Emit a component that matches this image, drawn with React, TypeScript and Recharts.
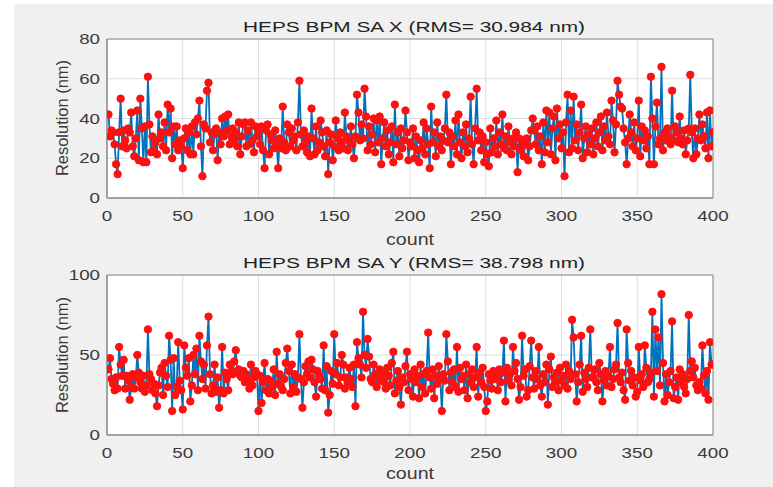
import React from 'react';
import { LineChart, Line, XAxis, YAxis, CartesianGrid, ReferenceArea } from 'recharts';

// Sample index (count axis)
const COUNTS: number[] = Array.from({ length: 400 }, (_, i) => i + 1);

// HEPS BPM SA X resolution (nm)
const SA_X: number[] = [
  42, 31, 34, 33, 27, 17, 12, 33, 50, 26,
  34, 29, 25, 35, 33, 43, 26, 21, 30, 44,
  19, 50, 35, 18, 36, 18, 61, 37, 23, 31,
  24, 28, 22, 42, 30, 33, 26, 38, 24, 47,
  33, 45, 20, 36, 27, 36, 24, 29, 26, 15,
  30, 35, 24, 33, 22, 36, 22, 38, 32, 40,
  49, 26, 11, 37, 35, 54, 58, 28, 33, 24,
  32, 35, 19, 33, 27, 40, 31, 41, 34, 42,
  27, 31, 35, 29, 33, 26, 38, 22, 31, 37,
  38, 26, 34, 27, 38, 29, 23, 36, 31, 34,
  27, 36, 24, 15, 34, 37, 22, 32, 29, 25,
  34, 27, 15, 30, 25, 46, 28, 24, 37, 33,
  26, 35, 29, 31, 24, 38, 59, 32, 26, 34,
  28, 23, 31, 21, 45, 30, 22, 36, 24, 28,
  39, 33, 26, 21, 34, 12, 28, 32, 19, 26,
  39, 30, 24, 33, 28, 25, 43, 31, 24, 29,
  36, 27, 20, 31, 52, 43, 29, 37, 30, 55,
  41, 24, 36, 27, 32, 40, 23, 39, 28, 41,
  17, 30, 38, 26, 34, 22, 28, 36, 18, 47,
  27, 33, 21, 35, 25, 29, 44, 33, 19, 28,
  26, 35, 20, 31, 24, 18, 29, 25, 38, 22,
  35, 27, 15, 46, 28, 33, 21, 38, 26, 31,
  24, 29, 35, 52, 28, 33, 17, 31, 26, 39,
  22, 42, 28, 20, 33, 26, 37, 23, 30, 51,
  27, 17, 35, 55, 29, 33, 24, 31, 18, 28,
  22, 16, 35, 23, 30, 26, 39, 22, 33, 27,
  42, 25, 31, 24, 36, 28, 22, 30, 26, 33,
  13, 30, 24, 28, 21, 27, 30, 19, 26, 34,
  40, 34, 27, 36, 24, 31, 17, 38, 23, 44,
  28, 43, 22, 35, 41, 19, 45, 30, 37, 25,
  33, 11, 38, 52, 23, 44, 25, 51, 29, 37,
  24, 33, 47, 20, 30, 36, 23, 32, 27, 35,
  22, 30, 38, 26, 33, 41, 24, 36, 29, 43,
  31, 27, 49, 39, 23, 37, 59, 52, 46, 45,
  35, 28, 17, 30, 42, 33, 26, 38, 24, 30,
  49, 21, 36, 29, 34, 25, 31, 17, 61, 40,
  17, 36, 48, 27, 30, 66, 24, 33, 29, 35,
  31, 27, 54, 29, 36, 33, 28, 41, 30, 27,
  34, 22, 29, 35, 62, 33, 20, 35, 22, 30,
  42, 29, 37, 31, 25, 43, 20, 44, 26, 33,
];

// HEPS BPM SA Y resolution (nm)
const SA_Y: number[] = [
  41, 48, 35, 32, 28, 36, 29, 55, 44, 37,
  47, 29, 37, 34, 22, 30, 38, 29, 36, 50,
  39, 33, 29, 37, 27, 31, 66, 38, 35, 28,
  32, 26, 18, 31, 39, 42, 25, 45, 37, 30,
  62, 47, 15, 48, 25, 30, 58, 34, 28, 16,
  56, 42, 37, 48, 21, 31, 50, 38, 54, 28,
  62, 46, 35, 44, 29, 56, 74, 38, 26, 31,
  44, 27, 36, 17, 28, 55, 26, 39, 35, 28,
  44, 40, 38, 46, 53, 39, 41, 37, 36, 40,
  33, 38, 34, 29, 44, 31, 36, 40, 38, 15,
  37, 20, 33, 45, 28, 35, 26, 34, 30, 41,
  25, 52, 32, 38, 30, 28, 35, 45, 54, 40,
  26, 44, 30, 38, 27, 36, 63, 35, 17, 33,
  43, 38, 46, 36, 47, 41, 33, 24, 40, 37,
  35, 29, 56, 28, 43, 14, 25, 40, 32, 63,
  38, 45, 31, 36, 50, 44, 29, 36, 33, 42,
  35, 30, 44, 18, 58, 48, 44, 36, 77, 50,
  42, 60, 49, 35, 33, 44, 38, 30, 36, 41,
  34, 38, 33, 29, 42, 37, 31, 45, 52, 26,
  34, 40, 30, 19, 36, 33, 43, 52, 28, 38,
  35, 24, 41, 33, 37, 23, 44, 30, 38, 26,
  40, 64, 36, 29, 41, 23, 37, 32, 43, 35,
  15, 38, 34, 63, 46, 28, 39, 33, 41, 30,
  55, 27, 42, 35, 37, 28, 44, 23, 38, 33,
  41, 30, 36, 55, 24, 39, 33, 42, 30, 15,
  21, 38, 34, 29, 40, 35, 37, 28, 41, 33,
  39, 59, 21, 42, 34, 38, 31, 55, 40, 45,
  35, 22, 30, 62, 37, 41, 24, 28, 43, 59,
  36, 29, 40, 35, 55, 31, 24, 38, 33, 44,
  19, 41, 49, 30, 36, 33, 39, 28, 42, 34,
  37, 31, 44, 29, 40, 35, 72, 61, 38, 21,
  33, 44, 62, 27, 39, 35, 30, 42, 66, 36,
  36, 41, 33, 28, 45, 38, 21, 34, 40, 31,
  37, 55, 30, 35, 41, 44, 70, 36, 33, 39,
  28, 22, 66, 45, 34, 40, 31, 36, 24, 27,
  55, 34, 38, 30, 56, 42, 33, 35, 39, 77,
  24, 66, 40, 61, 31, 88, 45, 21, 38, 25,
  33, 40, 71, 23, 30, 36, 22, 41, 33, 38,
  30, 26, 35, 75, 40, 46, 36, 42, 31, 28,
  33, 29, 56, 37, 26, 40, 22, 58, 44, 44,
];

const X_TICKS: number[] = [0, 50, 100, 150, 200, 250, 300, 350, 400];
const TOP_Y_TICKS: number[] = [0, 20, 40, 60, 80];
const BOTTOM_Y_TICKS: number[] = [0, 50, 100];

const TITLE_X = 'HEPS BPM SA X (RMS= 30.984 nm)';
const TITLE_Y = 'HEPS BPM SA Y (RMS= 38.798 nm)';
const X_LABEL = 'count';
const Y_LABEL = 'Resolution (nm)';

const dataX = COUNTS.map((c, i) => ({ count: c, value: SA_X[i] }));
const dataY = COUNTS.map((c, i) => ({ count: c, value: SA_Y[i] }));

const FONT = '"Liberation Sans", Arial, sans-serif';
const TEXT_COLOR = '#3a3a3a';
const SX = 1.25;

const XTick = (props: any) => {
  const { x, y, payload } = props;
  return (
    <g transform={`translate(${x},${y})`}>
      <text transform={`scale(${SX},1)`} textAnchor="middle" dy={15} fill={TEXT_COLOR} fontSize={15} fontFamily={FONT}>
        {payload.value}
      </text>
    </g>
  );
};

const YTick = (props: any) => {
  const { x, y, payload } = props;
  return (
    <g transform={`translate(${x + 1},${y})`}>
      <text transform={`scale(${SX},1)`} textAnchor="end" dy={5} fill={TEXT_COLOR} fontSize={15} fontFamily={FONT}>
        {payload.value}
      </text>
    </g>
  );
};

const Panel = ({ data, yMax, yTicks, height, top, bottom }: any) => (
  <LineChart
    width={773}
    height={height}
    data={data}
    margin={{ top, right: 60, bottom, left: 67 }}
  >
    <CartesianGrid stroke="#dedede" fill="#ffffff" horizontalValues={yTicks} verticalValues={X_TICKS} />
    <XAxis
      dataKey="count"
      type="number"
      domain={[0, 400]}
      ticks={X_TICKS}
      interval={0}
      height={30}
      tickLine={false}
      axisLine={{ stroke: '#8a8a8a' }}
      tick={<XTick />}
      allowDataOverflow
    />
    <YAxis
      type="number"
      domain={[0, yMax]}
      ticks={yTicks}
      interval={0}
      width={40}
      tickLine={false}
      axisLine={{ stroke: '#8a8a8a' }}
      tick={<YTick />}
      allowDataOverflow
    />
    <ReferenceArea x1={0} x2={400} y1={0} y2={yMax} fill="none" stroke="#8a8a8a" strokeWidth={1} ifOverflow="visible" />
    <Line
      dataKey="value"
      type="linear"
      stroke="#0072BD"
      strokeWidth={1.8}
      isAnimationActive={false}
      dot={{ r: 3.7, fill: '#ff1010', stroke: '#ff1010', strokeWidth: 1 }}
      activeDot={false}
    />
  </LineChart>
);

export default function App() {
  return (
    <div style={{ position: 'absolute', left: 0, top: 0, width: 773, height: 487, background: '#ffffff', overflow: 'hidden' }}>
      <div style={{ position: 'absolute', left: 14, top: 4, width: 759, height: 483, background: '#f0f0f0' }} />
      <div style={{ position: 'absolute', left: 0, top: 0 }}>
        <Panel data={dataX} yMax={80} yTicks={TOP_Y_TICKS} height={250} top={39} bottom={22} />
      </div>
      <div style={{ position: 'absolute', left: 0, top: 250 }}>
        <Panel data={dataY} yMax={100} yTicks={BOTTOM_Y_TICKS} height={237} top={25} bottom={22} />
      </div>
      <svg width={773} height={487} style={{ position: 'absolute', left: 0, top: 0, pointerEvents: 'none' }}>
        <text x={414} y={32} textAnchor="middle" fontSize={15} fontFamily={FONT} fill="#222" textLength={342} lengthAdjust="spacingAndGlyphs">
          {TITLE_X}
        </text>
        <text x={414} y={268} textAnchor="middle" fontSize={15} fontFamily={FONT} fill="#222" textLength={342} lengthAdjust="spacingAndGlyphs">
          {TITLE_Y}
        </text>
        <text x={410} y={245} textAnchor="middle" fontSize={16} fontFamily={FONT} fill={TEXT_COLOR} textLength={48} lengthAdjust="spacingAndGlyphs">
          {X_LABEL}
        </text>
        <text x={410} y={479} textAnchor="middle" fontSize={16} fontFamily={FONT} fill={TEXT_COLOR} textLength={48} lengthAdjust="spacingAndGlyphs">
          {X_LABEL}
        </text>
        <text transform="translate(68,118) rotate(-90)" textAnchor="middle" fontSize={16} fontFamily={FONT} fill={TEXT_COLOR} textLength={116} lengthAdjust="spacingAndGlyphs">
          {Y_LABEL}
        </text>
        <text transform="translate(68,355) rotate(-90)" textAnchor="middle" fontSize={16} fontFamily={FONT} fill={TEXT_COLOR} textLength={116} lengthAdjust="spacingAndGlyphs">
          {Y_LABEL}
        </text>
      </svg>
    </div>
  );
}
